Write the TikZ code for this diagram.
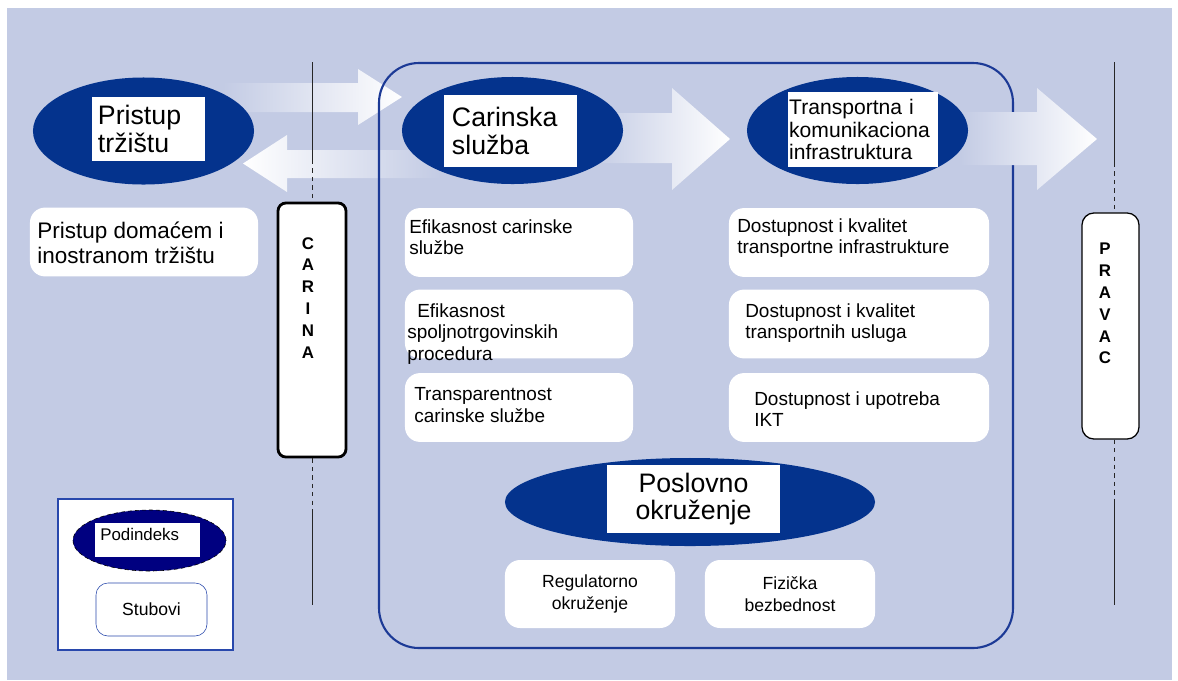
\documentclass[tikz,border=0pt]{standalone}
\usepackage{fontspec}
\setmainfont{Liberation Sans}
\usepackage{tikz}
\usetikzlibrary{shapes.geometric}
\usepackage{xcolor}
\definecolor{dfback}{RGB}{195,203,228}
\definecolor{dfnavy}{RGB}{4,51,141}
\definecolor{dfframe}{RGB}{28,58,150}
\definecolor{dflegend}{RGB}{40,72,172}
\definecolor{dfdeep}{RGB}{0,0,128}
\tikzstyle{pod} = [ellipse, fill=dfnavy, inner sep=0, minimum width=5.525cm, minimum height=2.675cm]
\tikzstyle{podbox} = [fill=white, inner ysep=0, inner xsep=0.15cm, align=left, font=\fontsize{19}{19.5}\selectfont]
\tikzstyle{pillar} = [fill=white, rounded corners=0.375cm, inner sep=0, minimum height=1.72cm]
\tikzstyle{ptxt} = [anchor=north west, inner sep=0, align=left, font=\fontsize{13.5}{15.5}\selectfont]
\tikzstyle{fade} = [left color=dfback, right color=white]
\tikzstyle{gate} = [draw, fill=white, inner sep=0]
\tikzstyle{gatetxt} = [anchor=north, inner sep=0, align=center, font=\bfseries\fontsize{12}{15.5}\selectfont]
\tikzstyle{rail} = [line width=0.6pt, black!85]

\begin{document}
\begin{tikzpicture}[x=0.025cm, y=-0.025cm]
\useasboundingbox (0,0) rectangle (1178,680);
\fill[dfback] (7,8) rectangle (1172,680);

% Arrows between market access and customs
\shade[fade] (223,83) -- (358,83) -- (358,69) -- (402,97) -- (358,125) -- (358,112) -- (223,112) -- cycle;
\shade[left color=white, right color=dfback] (440,150) -- (287,150) -- (287,135) -- (243,163.5) -- (287,192) -- (287,178) -- (440,178) -- cycle;

% Frame
\draw[dfframe, line width=1.5pt, rounded corners=1cm] (379,63) rectangle (1013,648);

% Arrows towards the right
\shade[fade] (590,113) -- (672,113) -- (672,88) -- (730,139) -- (672,190) -- (672,163) -- (590,163) -- cycle;
\shade[fade] (960,112) -- (1037,112) -- (1037,88) -- (1097,139) -- (1037,190) -- (1037,165) -- (960,165) -- cycle;

% CARINA
\coordinate (cTop) at (312,62);
\coordinate (cCut) at (312,160);
\coordinate (cLow) at (312,513);
\coordinate (cEnd) at (312,605);
\node[gate, line width=2pt, rounded corners=0.2cm, minimum width=1.7cm, minimum height=6.35cm] (carina) at (312,330) {};
\draw[rail] (cTop) -- (cCut);
\draw[rail, dashed] (cCut) -- (carina.north);
\draw[rail, dashed] (carina.south) -- (cLow);
\draw[rail] (cLow) -- (cEnd);
\node[gatetxt] (carinaT) at (308,237) {C\\A\\R\\I\\N\\A};

% PRAVAC
\coordinate (pTop) at (1114,62);
\coordinate (pCut) at (1114,163);
\coordinate (pLow) at (1114,502);
\coordinate (pEnd) at (1114,605);
\node[gate, line width=0.9pt, rounded corners=0.3cm, minimum width=1.425cm, minimum height=5.65cm] (pravac) at (1110.5,326) {};
\draw[rail] (pTop) -- (pCut);
\draw[rail, dashed] (pCut) -- (pCut |- pravac.north);
\draw[rail, dashed] (pLow |- pravac.south) -- (pLow);
\draw[rail] (pLow) -- (pEnd);
\node[gatetxt] (pravacT) at (1105,243) {P\\R\\A\\V\\A\\C};

% Subindices
\node[pod] (pristup) at (143.5,131) {};
\node[podbox, text width=2.525cm, minimum height=1.6cm] (pristupT) at (148.5,129) {Pristup\\tržištu};
\node[pod] (carinska) at (512.5,130.5) {};
\node[podbox, inner xsep=0.2cm, text width=2.925cm, minimum height=1.8cm] (carinskaT) at (510.5,131) {Carinska\\služba};
\node[pod] (transport) at (857.5,130.5) {};
\node[podbox, inner xsep=0.03cm, text width=3.69cm, minimum height=1.875cm, font=\fontsize{15}{16}\selectfont] (transportT) at (863,129.5) {Transportna i\\komunikaciona\\infrastruktura};
\node[pod, minimum width=9.25cm, minimum height=2.2cm] (poslovno) at (690,502) {};
\node[podbox, align=center, text width=4.025cm, minimum height=1.7cm] (poslovnoT) at (693.5,499) {Poslovno\\okruženje};

% Pillars
\node[pillar, minimum width=5.7cm] (lp) at (144,242) {};
\node[ptxt, font=\fontsize{16}{17.5}\selectfont] (lpT) at (37,222) {Pristup domaćem i\\inostranom tržištu};

\node[pillar, minimum width=5.7cm] (c1) at (519,242.5) {};
\node[ptxt] (c1T) at (409,219) {Efikasnost carinske\\službe};
\node[pillar, minimum width=5.7cm] (c2) at (519,324) {};
\node[ptxt] (c2T) at (407,303) {\hspace*{0.25cm}Efikasnost\\spoljnotrgovinskih\\procedura};
\node[pillar, minimum width=5.7cm] (c3) at (519,407.5) {};
\node[ptxt] (c3T) at (414,387) {Transparentnost\\carinske službe};

\node[pillar, minimum width=6.5cm] (t1) at (859,242.5) {};
\node[ptxt] (t1T) at (737,218) {Dostupnost i kvalitet\\transportne infrastrukture};
\node[pillar, minimum width=6.5cm] (t2) at (859,324) {};
\node[ptxt] (t2T) at (745,303) {Dostupnost i kvalitet\\transportnih usluga};
\node[pillar, minimum width=6.5cm] (t3) at (859,407.5) {};
\node[ptxt] (t3T) at (754,391) {Dostupnost i upotreba\\IKT};

\node[pillar, minimum width=4.25cm, minimum height=1.7cm, align=center, font=\fontsize{12.5}{15.5}\selectfont] (reg) at (590,594) {Regulatorno\\okruženje};
\node[pillar, minimum width=4.25cm, minimum height=1.7cm, align=center, font=\fontsize{12.5}{15.5}\selectfont] (fiz) at (790,594) {Fizička\\bezbednost};

% Legend
\draw[dflegend, fill=white, line width=0.8pt] (58,499) rectangle (233,650);
\node[ellipse, draw=black, densely dashed, fill=dfdeep, minimum width=3.825cm, minimum height=1.525cm, inner sep=0] (legpod) at (149.5,540.5) {};
\node[fill=white, minimum width=2.625cm, minimum height=0.85cm, inner sep=0] (legbox) at (147.5,540) {};
\node[ptxt, font=\fontsize{12}{14}\selectfont] (legT) at (100,528) {Podindeks};
\node[draw=dflegend, fill=white, rounded corners=0.3cm, minimum width=2.775cm, minimum height=1.325cm,
  inner sep=0, font=\fontsize{12.5}{15}\selectfont] (legpil) at (151.5,609.5) {Stubovi};
\end{tikzpicture}
\end{document}
